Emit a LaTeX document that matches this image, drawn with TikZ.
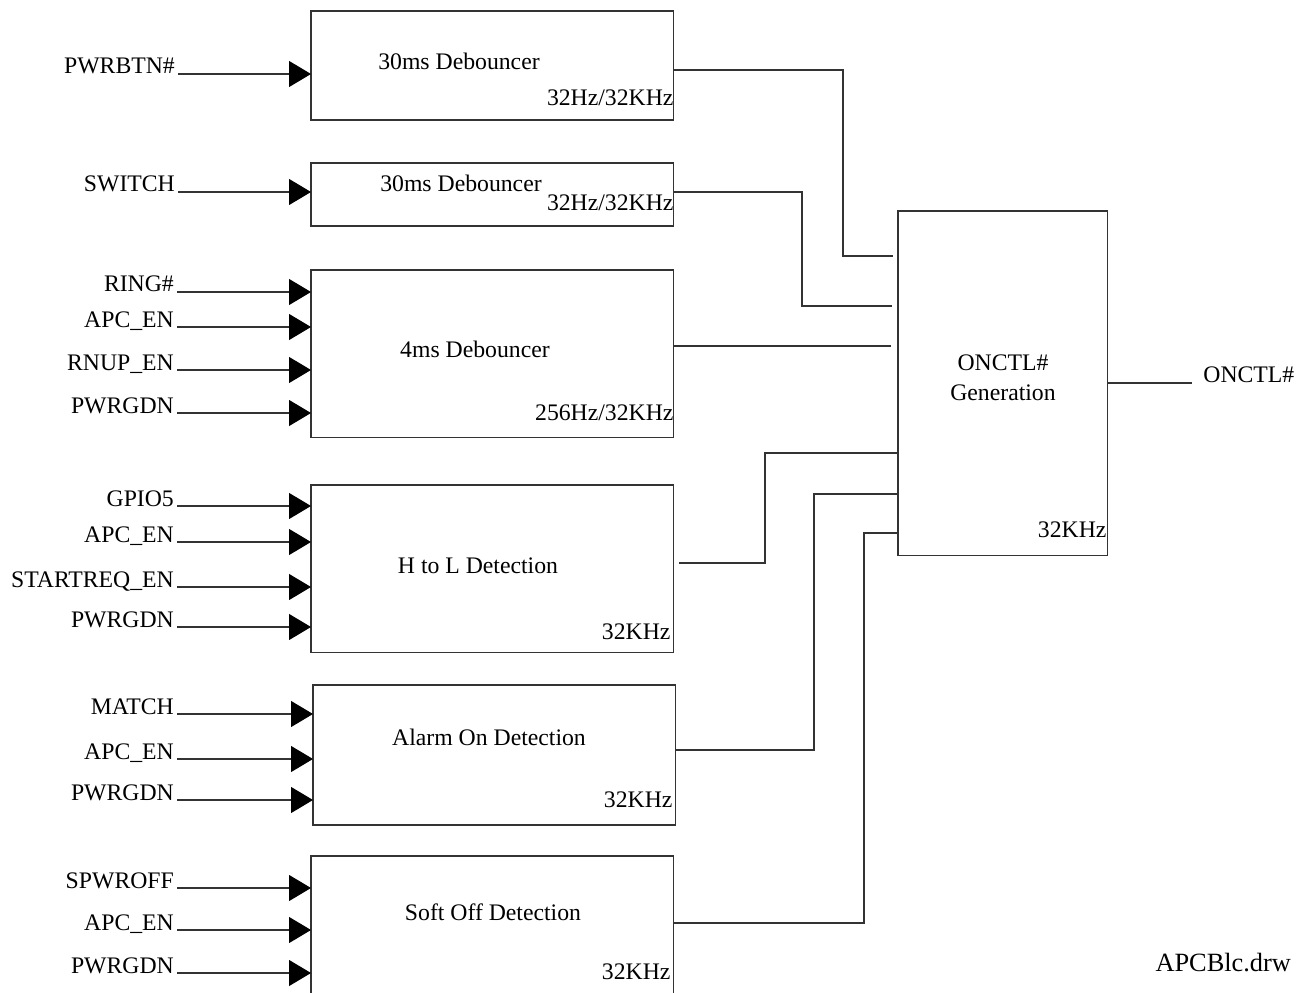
\documentclass[tikz,border=0pt]{standalone}
\usepackage{fontspec}
\setmainfont{Liberation Serif}
\usetikzlibrary{arrows.meta,positioning,calc}

\begin{document}
\begin{tikzpicture}[x=0.02cm,y=-0.02cm,line width=0.6pt,
 font=\fontsize{13.5}{17}\selectfont,
 >={Triangle[length=0.44cm,width=0.52cm,color=black]},
 blk/.style={draw=black!80,inner sep=0pt,outer sep=0pt,anchor=north west},
 lbl/.style={anchor=base east,inner sep=1.5pt},
 frq/.style={anchor=east,inner sep=0pt},
 wire/.style={draw=black!80}]
\useasboundingbox (0,0) rectangle (1312,993);
% blocks
\node[blk,minimum width=7.26cm,minimum height=2.18cm] (deb1) at (311,11) {};
\node[blk,minimum width=7.26cm,minimum height=1.26cm] (deb2) at (311,163) {};
\node[blk,minimum width=7.26cm,minimum height=3.36cm] (dbc) at (311,270) {};
\node[blk,minimum width=7.26cm,minimum height=3.36cm] (hl) at (311,485) {};
\node[blk,minimum width=7.26cm,minimum height=2.80cm] (alm) at (313,685) {};
\node[blk,minimum width=7.26cm,minimum height=2.90cm] (soft) at (311,856) {};
\node[blk,minimum width=4.20cm,minimum height=6.90cm] (onc) at (898,211) {};
% block texts
\node (t1) at (459,61) {30ms Debouncer};
\node[frq] (f1) at (674,98) {32Hz/32KHz};
\node (t2) at (461,183) {30ms Debouncer};
\node[frq] (f2) at (674,203) {32Hz/32KHz};
\node (t3) at (475,349) {4ms Debouncer};
\node[frq] (f3) at (674,413) {256Hz/32KHz};
\node (t4) at (478,566) {H to L Detection};
\node[frq] (f4) at (671,632) {32KHz};
\node (t5) at (489,737) {Alarm On Detection};
\node[frq] (f5) at (673,800) {32KHz};
\node (t6) at (493,912) {Soft Off Detection};
\node[frq] (f6) at (671,972) {32KHz};
\node[align=center] (t7) at (1003,378) {ONCTL\#\\Generation};
\node[frq] (f7) at (1107,530) {32KHz};
% inputs
\foreach \t/\yy in {PWRBTN\#/74}
 {\node[lbl] (a\yy) at (178,\yy) {\t}; \draw[wire,->] (a\yy.base east) -- (a\yy.base east -| deb1.west);}
\foreach \t/\yy in {SWITCH/192}
 {\node[lbl] (b\yy) at (178,\yy) {\t}; \draw[wire,->] (b\yy.base east) -- (b\yy.base east -| deb2.west);}
\foreach \t/\yy in {RING\#/292,APC\_EN/327,RNUP\_EN/370,PWRGDN/413}
 {\node[lbl] (c\yy) at (177,\yy) {\t}; \draw[wire,->] (c\yy.base east) -- (c\yy.base east -| dbc.west);}
\foreach \t/\yy in {GPIO5/506,APC\_EN/542,STARTREQ\_EN/587,PWRGDN/627}
 {\node[lbl] (d\yy) at (177,\yy) {\t}; \draw[wire,->] (d\yy.base east) -- (d\yy.base east -| hl.west);}
\foreach \t/\yy in {MATCH/714,APC\_EN/759,PWRGDN/800}
 {\node[lbl] (e\yy) at (177,\yy) {\t}; \draw[wire,->] (e\yy.base east) -- (e\yy.base east -| alm.west);}
\foreach \t/\yy in {SPWROFF/888,APC\_EN/930,PWRGDN/973}
 {\node[lbl] (g\yy) at (177,\yy) {\t}; \draw[wire,->] (g\yy.base east) -- (g\yy.base east -| soft.west);}
% to ONCTL# generation
\draw[wire,shorten >=0.1cm] (deb1.east |- 0,70) -| (843,256) -- (onc.west |- 0,256);
\draw[wire,shorten >=0.12cm] (deb2.east |- 0,192) -| (802,306) -- (onc.west |- 0,306);
\draw[wire,shorten >=0.14cm] (dbc.east |- 0,346) -- (onc.west |- 0,346);
\draw[wire,shorten <=0.1cm] (hl.east |- 0,563) -| (765,453) -- (onc.west |- 0,453);
\draw[wire] (alm.east |- 0,750) -| (814,494) -- (onc.west |- 0,494);
\draw[wire] (soft.east |- 0,923) -| (864,533) -- (onc.west |- 0,533);
% output
\node[anchor=west] (out) at (1197,375) {ONCTL\#};
\draw[wire,shorten >=0.1cm] (onc.east |- 0,383) -- (out.west |- 0,383);
\node[anchor=west,inner sep=0pt,font=\fontsize{15}{18}\selectfont] (fn) at (1155,963) {APCBlc.drw};
\end{tikzpicture}
\end{document}
